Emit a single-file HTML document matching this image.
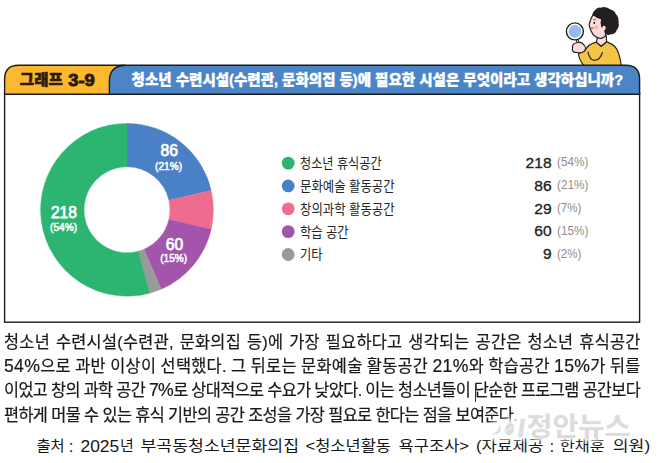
<!DOCTYPE html>
<html lang="ko">
<head>
<meta charset="utf-8">
<title>그래프 3-9</title>
<style>
  html, body { margin: 0; padding: 0; background: #ffffff; }
  body { width: 658px; height: 463px; overflow: hidden; position: relative;
         font-family: "Liberation Sans", "Noto Sans CJK KR", sans-serif; }
  svg { position: absolute; left: 0; top: 0; display: block; }
  text { font-family: "Liberation Sans", "Noto Sans CJK KR", sans-serif; }
  .hd { font-weight: 900; font-size: 15px; }
  .hdn { font-weight: 700; font-size: 17.4px; stroke-width: 0.9px; paint-order: stroke; }
  .lg { font-size: 13.8px; fill: #262626; font-weight: 400; }
  .num { font-size: 15.2px; font-weight: 400; fill: #222; stroke: #222; stroke-width: 0.32px; text-anchor: end; }
  .pct { font-size: 12.6px; fill: #8e8e8e; }
  .dv { font-size: 16.2px; font-weight: 400; fill: #fff; stroke: #fff; stroke-width: 0.75px; text-anchor: middle; }
  .dp { font-size: 11.5px; font-weight: 400; fill: #fff; stroke: #fff; stroke-width: 0.55px; text-anchor: middle; }
  .src { font-size: 15.2px; fill: #161616; font-weight: 400; }
  .body { position: absolute; left: 3.8px; height: 24px; line-height: 24px;
          font-size: 16.6px; color: #1a1a1a; white-space: nowrap; font-weight: 400; -webkit-text-stroke: 0.22px #1a1a1a;
          display: flex; justify-content: space-between;
          transform: scaleX(0.985); transform-origin: 0 0; }
  .body i { font-style: normal; font-size: 1.08em; line-height: 1; }
  .cursor { position: absolute; left: 474.6px; top: 385px; width: 1px; height: 17px; background: #2a2a2a; }
</style>
</head>
<body>
<svg width="658" height="463" viewBox="0 0 658 463">
  
  <g id="person" transform="translate(0 0.5)" stroke="#231f20" stroke-width="1.15" stroke-linejoin="round" stroke-linecap="round">
    <!-- body -->
    <path d="M596.4 41.6 C590.5 43 586.5 46 584.8 50.4 L578.4 53 C579 58 581.5 62.5 584.6 66 L621.4 66 C620.4 58 618.8 50 614.8 46 C612.4 43.6 609.4 42.4 606.6 41.2 L601.2 45.8 Z" fill="#f5c444"/>
    <path d="M588 51.6 C589.2 57 591.6 60 594.8 59.8 C598.4 59.6 601 56.6 602.4 52" fill="none"/>
    <!-- neck -->
    <path d="M597.6 36.5 L596.4 41.6 L601.2 45.8 L606.6 41.2 L606.2 35 Z" fill="#fbdcdb"/>
    <!-- face -->
    <path d="M594 13.5 C592.6 15 591.8 16.4 591.4 17.2 C590.4 19.6 589.6 22 589.1 23.9 C589.4 26.2 590.2 28.4 591 30.2 C592 32.8 593.4 34.8 595.3 36 C597.2 37.4 599.4 38 601.2 37.9 L605 36 L607 27 L603 15 Z" fill="#fbdcdb"/>
    <circle cx="596.4" cy="26.9" r="2.1" fill="#f7b3b2" stroke="none"/>
    <ellipse cx="594.3" cy="22.4" rx="0.8" ry="1.2" fill="#231f20" stroke="none"/>
    <path d="M593.4 19.3 C594.2 18.8 595.2 18.8 596 19.3" fill="none" stroke-width="0.7"/>
    <path d="M591.2 27.4 C591.9 28.1 592.8 28.1 593.4 27.5" fill="none" stroke-width="0.8"/>
    <!-- hair -->
    <path d="M592.9 13.9 C593.4 11.6 594.8 10 596.4 9.2 C597.6 7.8 599.4 7.4 601 7.8 C603.6 6.6 607.6 7.4 610.4 9.6 C612.6 10.2 614.6 11.8 615.4 14 C617.2 15.6 618.2 19 618 22.4 C618.6 25 617.8 27.6 616.2 29.2 C615.4 31.6 613.2 33.2 610.6 33.3 C609 34.2 607 34 605.8 32.9 C605.2 32.2 604.8 31.2 604.8 30.2 C606.8 29.2 607 26 604.8 24.8 C603 24.2 601.9 25.4 601.9 26.6 C600.8 24 600.9 21 601.7 18.4 C598.6 17.8 595.4 16.2 592.9 13.9 Z" fill="#231f20"/>
    <!-- magnifier -->
    <path d="M577.2 39.6 L578.6 43.4" fill="none" stroke-width="2.8"/>
    <path d="M577.2 39.6 L578.6 43.4" fill="none" stroke="#fff" stroke-width="0.9"/>
    <circle cx="574.9" cy="30.9" r="8.5" fill="#fff" stroke-width="1.4"/>
    <circle cx="574.9" cy="30.9" r="6.3" fill="#97bbe9" stroke="none"/>
    <!-- hand -->
    <path d="M576.6 42.2 C574 42.2 571.8 44.8 572.6 47.4 C571.6 49.6 573.4 52.2 576 51.8 C578.6 52.8 582.4 52.2 584.6 50.4 C586 48.2 585.4 45.4 583.4 44 C582 41.8 578.6 41.2 576.6 42.2 Z" fill="#fbdcdb"/>
  </g>
  <!-- chart box -->
  <rect x="4.6" y="93" width="635" height="229.2" fill="#fff" stroke="#1c1c1c" stroke-width="1.4"/>
  <!-- blue header -->
  <path d="M108.6 94.2 L108.6 81 Q108.6 65.2 125 65.2 L625.6 65.2 Q639.6 65.2 639.6 79.2 L639.6 94.2 Z" fill="#4b85c8" stroke="#1c1c1c" stroke-width="1.4"/>
  <!-- yellow tab -->
  <path d="M4.6 94.2 L4.6 79.2 Q4.6 65.2 18.6 65.2 L125 65.2 Q109.4 66 109.4 81 L109.4 94.2 Z" fill="#fcb82f" stroke="#1c1c1c" stroke-width="1.4"/>
  <text class="hd" x="19.8" y="85.1" fill="#2e1b06" stroke="#2e1b06" stroke-width="0.5" textLength="43" lengthAdjust="spacingAndGlyphs">그래프</text>
  <text class="hdn" x="68.2" y="86" fill="#2e1b06" stroke="#2e1b06" textLength="26.6" lengthAdjust="spacingAndGlyphs">3-9</text>
  <text class="hd" x="131.6" y="85.1" fill="#ffffff" stroke="#ffffff" stroke-width="0.35" textLength="491.5" lengthAdjust="spacingAndGlyphs">청소년 수련시설(수련관, 문화의집 등)에 필요한 시설은 무엇이라고 생각하십니까?</text>

  <!-- donut -->
  <g id="donut">
    <path d="M127.00 123.40 A86.4 86.4 0 0 1 211.19 190.39 L168.90 200.14 A43.0 43.0 0 0 0 127.00 166.80 Z" fill="#4a80c5" stroke="#4a80c5" stroke-width="0.4"/>
    <path d="M211.19 190.39 A86.4 86.4 0 0 1 211.19 229.21 L168.90 219.46 A43.0 43.0 0 0 0 168.90 200.14 Z" fill="#f06c8e" stroke="#f06c8e" stroke-width="0.4"/>
    <path d="M211.19 229.21 A86.4 86.4 0 0 1 161.15 289.16 L144.00 249.30 A43.0 43.0 0 0 0 168.90 219.46 Z" fill="#a355ac" stroke="#a355ac" stroke-width="0.4"/>
    <path d="M161.15 289.16 A86.4 86.4 0 0 1 149.69 293.17 L138.29 251.29 A43.0 43.0 0 0 0 144.00 249.30 Z" fill="#9a9a9a" stroke="#9a9a9a" stroke-width="0.4"/>
    <path d="M149.69 293.17 A86.4 86.4 0 1 1 127.00 123.40 L127.00 166.80 A43.0 43.0 0 1 0 138.29 251.29 Z" fill="#2cb570" stroke="#2cb570" stroke-width="0.4"/>
  </g>
  <text class="dv" x="169.2" y="155.9" textLength="17.4" lengthAdjust="spacingAndGlyphs">86</text>
  <text class="dp" x="168.6" y="169.6" textLength="27" lengthAdjust="spacingAndGlyphs">(21%)</text>
  <text class="dv" x="63.9" y="218.1" textLength="26" lengthAdjust="spacingAndGlyphs">218</text>
  <text class="dp" x="63.6" y="230.8" textLength="27" lengthAdjust="spacingAndGlyphs">(54%)</text>
  <text class="dv" x="174.4" y="249.6" textLength="17.4" lengthAdjust="spacingAndGlyphs">60</text>
  <text class="dp" x="173.7" y="262.2" textLength="27" lengthAdjust="spacingAndGlyphs">(15%)</text>

  <!-- legend -->
  <circle cx="288.2" cy="163.10" r="6.4" fill="#2cb570"/>
  <text class="lg" x="300" y="167.9" textLength="81.6" lengthAdjust="spacingAndGlyphs">청소년 휴식공간</text>
  <text class="num" x="551.6" y="167.8" textLength="26.0" lengthAdjust="spacingAndGlyphs">218</text>
  <text class="pct" x="557.0" y="166.3" textLength="31.4" lengthAdjust="spacingAndGlyphs">(54%)</text>
  <circle cx="288.2" cy="185.95" r="6.4" fill="#4a80c5"/>
  <text class="lg" x="300" y="190.8" textLength="94.6" lengthAdjust="spacingAndGlyphs">문화예술 활동공간</text>
  <text class="num" x="551.6" y="190.7" textLength="17.3" lengthAdjust="spacingAndGlyphs">86</text>
  <text class="pct" x="557.0" y="189.2" textLength="31.4" lengthAdjust="spacingAndGlyphs">(21%)</text>
  <circle cx="288.2" cy="208.80" r="6.4" fill="#f06c8e"/>
  <text class="lg" x="300" y="213.6" textLength="94.6" lengthAdjust="spacingAndGlyphs">창의과학 활동공간</text>
  <text class="num" x="551.6" y="213.5" textLength="17.3" lengthAdjust="spacingAndGlyphs">29</text>
  <text class="pct" x="557.0" y="212.0" textLength="24.4" lengthAdjust="spacingAndGlyphs">(7%)</text>
  <circle cx="288.2" cy="231.65" r="6.4" fill="#a355ac"/>
  <text class="lg" x="300" y="236.5" textLength="48.6" lengthAdjust="spacingAndGlyphs">학습 공간</text>
  <text class="num" x="551.6" y="236.4" textLength="17.3" lengthAdjust="spacingAndGlyphs">60</text>
  <text class="pct" x="557.0" y="234.9" textLength="31.4" lengthAdjust="spacingAndGlyphs">(15%)</text>
  <circle cx="288.2" cy="254.50" r="6.4" fill="#9a9a9a"/>
  <text class="lg" x="300" y="259.3" textLength="22.6" lengthAdjust="spacingAndGlyphs">기타</text>
  <text class="num" x="551.6" y="259.2" textLength="8.6" lengthAdjust="spacingAndGlyphs">9</text>
  <text class="pct" x="557.0" y="257.7" textLength="24.4" lengthAdjust="spacingAndGlyphs">(2%)</text>

  <!-- source -->
  <text class="src" x="36.5" y="451.2" textLength="28.2" lengthAdjust="spacingAndGlyphs">출처</text>
  <text class="src" x="68.8" y="451.5" font-weight="700" style="font-size:17px">:</text>
  <text class="src" x="80.5" y="451.5" textLength="38.6" lengthAdjust="spacingAndGlyphs" style="font-size:16.6px">2025</text>
  <text class="src" x="120.1" y="451.2" textLength="13.8" lengthAdjust="spacingAndGlyphs">년</text>
  <text class="src" x="140.5" y="451.2" textLength="158.5" lengthAdjust="spacingAndGlyphs">부곡동청소년문화의집</text>
  <text class="src" x="305.5" y="451.2" textLength="85.5" lengthAdjust="spacingAndGlyphs">&lt;청소년활동</text>
  <text class="src" x="398.5" y="451.2" textLength="70.5" lengthAdjust="spacingAndGlyphs">욕구조사&gt;</text>
  <text class="src" x="476.0" y="451.2" textLength="67.5" lengthAdjust="spacingAndGlyphs">(자료제공</text>
  <text class="src" x="549.6" y="451.5" font-weight="700" style="font-size:17px">:</text>
  <text class="src" x="559.8" y="451.2" textLength="45.1" lengthAdjust="spacingAndGlyphs">한채훈</text>
  <text class="src" x="612.8" y="451.2" textLength="37.4" lengthAdjust="spacingAndGlyphs">의원)</text>
</svg>
<div class="body" style="top:330.9px;width:646.40px;letter-spacing:0.305px"><span>청소년</span><span>수련시설(수련관,</span><span>문화의집</span><span>등)에</span><span>가장</span><span>필요하다고</span><span>생각되는</span><span>공간은</span><span>청소년</span><span>휴식공간</span></div>
<div class="body" style="top:355.1px;width:646.40px;letter-spacing:0.305px"><span><i>54%</i>으로</span><span>과반</span><span>이상이</span><span>선택했다.</span><span>그</span><span>뒤로는</span><span>문화예술</span><span>활동공간</span><span><i>21%</i>와</span><span>학습공간</span><span><i>15%</i>가</span><span>뒤를</span></div>
<div class="body" style="top:379.3px;width:645.89px;letter-spacing:-0.609px"><span>이었고</span><span>창의</span><span>과학</span><span>공간</span><span><i>7%</i>로</span><span>상대적으로</span><span>수요가</span><span>낮았다.</span><span>이는</span><span>청소년들이</span><span>단순한</span><span>프로그램</span><span>공간보다</span></div>
<div class="body" style="top:403.5px;width:521.02px;letter-spacing:-0.609px"><span>편하게</span><span>머물</span><span>수</span><span>있는</span><span>휴식</span><span>기반의</span><span>공간</span><span>조성을</span><span>가장</span><span>필요로</span><span>한다는</span><span>점을</span><span>보여준다.</span></div>
<div class="cursor"></div>
<svg width="658" height="463" viewBox="0 0 658 463" style="pointer-events:none">
  
  <defs>
    <filter id="bl" x="-20%" y="-40%" width="140%" height="180%"><feGaussianBlur stdDeviation="2.2"/></filter>
  </defs>
  <g id="wm">
    <g filter="url(#bl)" opacity="0.85">
      <path d="M492 424 L526 418 L524 438 L490 438 Z" fill="#fff" stroke="#fff" stroke-width="4"/>
      <text x="526.6" y="436" font-size="26" font-weight="700" fill="#fff" stroke="#fff" stroke-width="5" textLength="104" lengthAdjust="spacingAndGlyphs">정안뉴스</text>
    </g>
    <g opacity="0.9">
      <g fill="#dadada" stroke="#f6f6f6" stroke-width="0.7">
        <path d="M499.5 424.5 C499 429 496.5 432.5 492 434 C495.5 436 500 434 501 429.5 C501.4 427.5 500.6 425.5 499.5 424.5 Z"/>
        <ellipse cx="509.6" cy="429" rx="4.6" ry="6.6" transform="rotate(18 509.6 429)"/>
        <path d="M520.6 418.4 L525.4 418.4 L522.6 437.6 L517.8 437.6 Z"/>
      </g>
      <path d="M505.4 431.6 L514 426.4" stroke="#f8f8f8" stroke-width="0.9" fill="none"/>
      <text x="526.6" y="436" font-size="26" font-weight="700" fill="#d8d8d8" stroke="#f6f6f6" stroke-width="1.2" paint-order="stroke" textLength="104" lengthAdjust="spacingAndGlyphs">정안뉴스</text>
    </g>
  </g>
</svg>
</body>
</html>
